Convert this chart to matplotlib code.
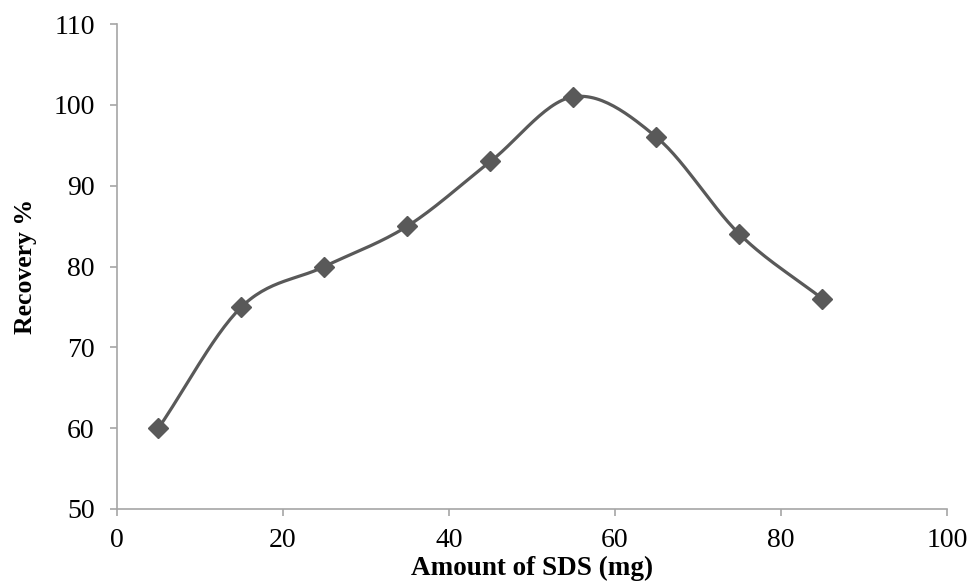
import matplotlib
matplotlib.use("Agg")
import matplotlib.pyplot as plt
import numpy as np

plt.rcParams["font.family"] = ["Liberation Serif", "DejaVu Serif"]

# valeurs
sds_mg = [5, 15, 25, 35, 45, 55, 65, 75, 85]
recovery = [60, 75, 80, 85, 93, 101, 96, 84, 76]
x_ticks = [0, 20, 40, 60, 80, 100]
y_ticks = [50, 60, 70, 80, 90, 100, 110]


def lissage(x, y, n=30):
    # courbe lissée type Catmull-Rom passant par les points
    x = np.asarray(x, float)
    y = np.asarray(y, float)
    px = np.concatenate([[2 * x[0] - x[1]], x, [2 * x[-1] - x[-2]]])
    py = np.concatenate([[2 * y[0] - y[1]], y, [2 * y[-1] - y[-2]]])
    xs, ys = [], []
    t = np.linspace(0, 1, n)
    for i in range(1, len(px) - 2):
        for p, out in ((px, xs), (py, ys)):
            p0, p1, p2, p3 = p[i - 1], p[i], p[i + 1], p[i + 2]
            out.extend(0.5 * ((2 * p1) + (-p0 + p2) * t
                              + (2 * p0 - 5 * p1 + 4 * p2 - p3) * t ** 2
                              + (-p0 + 3 * p1 - 3 * p2 + p3) * t ** 3))
    return xs, ys


fig = plt.figure(figsize=(9.69, 5.86), dpi=100)
ax = fig.add_axes([0.1207, 0.1314, 0.8566, 0.8276])

gris = "#595959"
cx, cy = lissage(sds_mg, recovery)
ax.plot(cx, cy, color=gris, lw=2.3, solid_capstyle="round")
ax.plot(sds_mg, recovery, ls="none", marker="D", ms=10, color=gris)

ax.set_xlim(0, 100)
ax.set_ylim(50, 110)
ax.set_xticks(x_ticks)
ax.set_yticks(y_ticks)
for s in ["top", "right"]:
    ax.spines[s].set_visible(False)
for s in ["left", "bottom"]:
    ax.spines[s].set_color("#a6a6a6")
    ax.spines[s].set_linewidth(1.2)
ax.tick_params(direction="out", length=5, width=1.2, color="#a6a6a6",
               labelsize=20)
ax.tick_params(axis="y", pad=11)
ax.tick_params(axis="x", pad=9)

ax.set_xlabel("Amount of SDS (mg)", fontsize=19.5, fontweight="bold", labelpad=2)
ax.set_ylabel("Recovery %", fontsize=18.5, fontweight="bold", labelpad=12)

fig.savefig("out.png", dpi=100)
